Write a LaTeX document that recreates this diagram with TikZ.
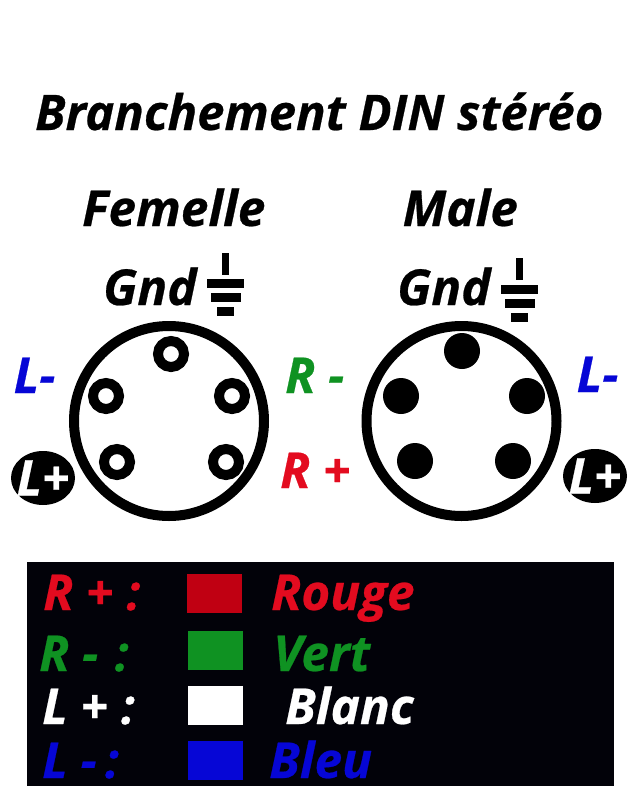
\documentclass[tikz,border=0pt]{standalone}
\usepackage{fontspec}
\usepackage{xcolor}
\setmainfont[BoldItalicFeatures={FakeBold=0.5}]{Open Sans}
\usetikzlibrary{shapes.geometric}
\definecolor{rouge}{HTML}{E30B1F}
\definecolor{rougefonce}{HTML}{C00012}
\definecolor{vert}{HTML}{0F9222}
\definecolor{bleu}{HTML}{0606D6}
\definecolor{fond}{HTML}{020209}

\begin{document}
\begin{tikzpicture}
                [x=1pt, y=-1pt,
                 txt/.style = {anchor=base west, inner sep=0, font=\fontsize{49.5}{56}\selectfont\bfseries\itshape},
                 case/.style = {circle, draw, line width=10pt, minimum size=190pt, inner sep=0},
                 hole/.style = {circle, draw, line width=10pt, fill=white, minimum size=26pt, inner sep=0},
                 plug/.style = {circle, fill=black, minimum size=36pt, inner sep=0},
                 bar/.style = {rectangle, fill=black, inner sep=0, outer sep=0, minimum height=9pt},
                 blob/.style = {ellipse, fill=black, minimum width=64pt, minimum height=54pt, inner sep=0},
                 swatch/.style = {rectangle, inner sep=0, outer sep=0, minimum width=55pt, minimum height=39pt}]
                \useasboundingbox (0,0) rectangle (640,792);
                % Title
                \node[txt, font=\fontsize{49}{56}\selectfont\bfseries\itshape] (title) at (35,130) {Branchement DIN stéréo};
                \node[txt] (femelle) at (82,226) {Femelle};
                \node[txt] (male) at (402.5,226) {Male};
                % Female socket
                \node[case] (fcase) at (169,421) {};
                \node[hole] (f1) at (171,354) {};
                \node[hole] (f2) at (106,396) {};
                \node[hole] (f3) at (232,396) {};
                \node[hole] (f4) at (117,462) {};
                \node[hole] (f5) at (226,462) {};
                % Male plug
                \node[case] (mcase) at (461.5,421) {};
                \node[plug] (m1) at (462,351) {};
                \node[plug] (m2) at (401,396) {};
                \node[plug] (m3) at (527,396) {};
                \node[plug] (m4) at (415,461) {};
                \node[plug] (m5) at (513,461) {};
                % Ground symbols
                \node[txt] (fgnd) at (103,305) {Gnd};
                \node[bar, minimum width=7pt, minimum height=22pt] (fg0) at (225,264) {};
                \node[bar, minimum width=37pt] (fg1) at (225.5,283) {};
                \node[bar, minimum width=30pt] (fg2) at (226,297) {};
                \node[bar, minimum width=17pt] (fg3) at (225,311) {};
                \node[txt] (mgnd) at (397,305) {Gnd};
                \node[bar, minimum width=7pt, minimum height=22pt] (mg0) at (519,269) {};
                \node[bar, minimum width=37pt] (mg1) at (519.5,289) {};
                \node[bar, minimum width=30pt] (mg2) at (520,303) {};
                \node[bar, minimum width=17pt] (mg3) at (519.5,317) {};
                % Pin labels
                \node[txt, text=bleu] (flm) at (13.5,393) {L-};
                \node[blob] (fblob) at (43,478) {};
                \node[txt, anchor=center, text=white] (flp) at (fblob) {L+};
                \node[txt, text=vert] (rm) at (285,393) {R -};
                \node[txt, text=rouge] (rp) at (280,488) {R +};
                \node[txt, text=bleu] (mlm) at (576.5,392) {L-};
                \node[blob] (mblob) at (595,476) {};
                \node[txt, anchor=center, text=white] (mlp) at (mblob) {L+};
                % Legend
                \node[rectangle, fill=fond, inner sep=0, anchor=north west, minimum width=587pt, minimum height=224pt] (legend) at (27,562) {};
                \node[swatch, fill=rougefonce] (s1) at (214.5,593.5) {};
                \node[swatch, fill=vert] (s2) at (215.5,650.5) {};
                \node[swatch, fill=white] (s3) at (215.5,705.5) {};
                \node[swatch, fill=bleu] (s4) at (215.5,760.5) {};
                \node[txt, text=rouge] (k1) at (43,610) {R + :};
                \node[txt, text=vert] (k2) at (39,671) {R -\,\,:};
                \node[txt, text=white] (k3) at (42,724) {L + :};
                \node[txt, text=bleu] (k4) at (42,778) {L -\,:};
                \node[txt, text=rouge] (v1) at (271,610) {Rouge};
                \node[txt, text=vert] (v2) at (273,671) {Vert};
                \node[txt, text=white] (v3) at (285,724) {Blanc};
                \node[txt, text=bleu] (v4) at (269,778) {Bleu};
            \end{tikzpicture}
\end{document}
